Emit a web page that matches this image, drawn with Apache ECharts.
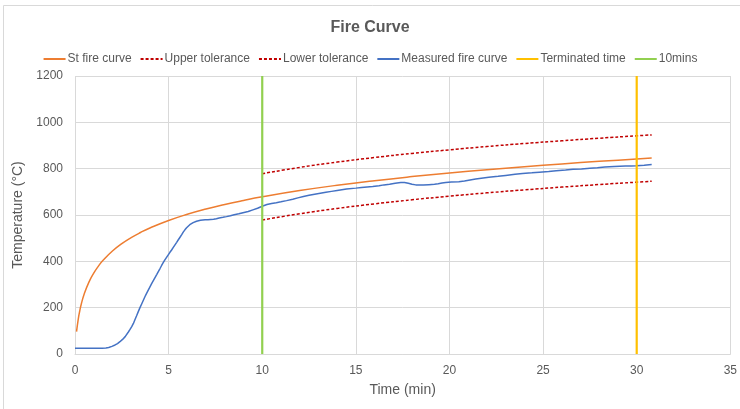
<!DOCTYPE html>
<html>
<head>
<meta charset="utf-8">
<script src="https://cdn.jsdelivr.net/npm/echarts@6/dist/echarts.min.js"></script>
<style>
html,body{margin:0;padding:0;background:#fff;}
#c{width:740px;height:409px;}
</style>
</head>
<body>
<div id="c"></div>
<script>
// Standard fire curve [time (min), temperature (°C)]
const stFireCurve = [
  [0.083,96.5],[0.17,148.6],[0.25,184.6],[0.33,213.6],[0.5,261.2],[0.75,311.6],
  [1,349.2],[1.25,379.3],[1.5,404.3],[2,444.5],[2.5,476.2],[3,502.3],[3.5,524.5],
  [4,543.9],[5,576.4],[6,603.1],[7,625.8],[8,645.5],[9,662.8],[10,678.4],
  [12,705.4],[14,728.3],[16,748.2],[18,765.7],[20,781.3],[22,795.6],[24,808.5],
  [26,820.4],[28,831.5],[30,841.8],[30.8,845.7]
];
const upperTolerance = [
  [10,778.4],[12,805.4],[14,828.3],[16,848.2],[18,865.7],[20,881.3],[22,895.6],
  [24,908.5],[26,920.4],[28,931.5],[30,941.8],[30.8,945.7]
];
const lowerTolerance = [
  [10,578.4],[12,605.4],[14,628.3],[16,648.2],[18,665.7],[20,681.3],[22,695.6],
  [24,708.5],[26,720.4],[28,731.5],[30,741.8],[30.8,745.7]
];
const measuredFireCurve = [
  [0,25],[0.5,25],[1,25],[1.44,25],[1.65,26],[1.8,28],[1.97,33],[2.14,39],[2.27,45],
  [2.4,53],[2.54,63],[2.68,75],[2.85,95],[2.94,106],
  [3.03,118],[3.12,132],[3.2,148],[3.29,165],[3.38,183],[3.47,200],[3.56,216],[3.65,232],
  [3.74,248],[3.83,263],[3.92,277],[4.01,291],[4.1,305],[4.19,318],
  [4.28,331],[4.37,344],[4.45,356],[4.54,369],[4.62,381],[4.71,394],[4.8,406],[4.89,417],
  [4.98,428],[5.07,439],[5.16,449],[5.25,460],[5.34,471],[5.43,482],
  [5.51,492],[5.6,503],[5.7,515],[5.78,526],[5.87,536],[5.96,545],[6.05,552],[6.13,558],
  [6.22,563],[6.31,567],[6.4,570],[6.49,573],[6.57,575],[6.7,577],
  [6.8,578],[6.95,579],[7.1,580],[7.25,581],[7.4,582],[7.55,584],[7.7,587],[7.9,590],[8.09,593],
  [8.3,597],[8.5,601],[8.75,605],[8.97,610],[9.25,615],[9.5,622],[9.75,629],[10,638],
  [10.25,645],[10.5,650],[10.75,653],[11,657],[11.3,662],[11.63,668],
  [11.9,674],[12.2,680],[12.5,685],[12.8,690],[13.1,694],[13.4,698],[13.7,702],[14,706],
  [14.5,712],[15,716],[15.3,719],[15.6,721],[15.9,723],
  [16.24,726],[16.5,730],[16.8,733],[17.1,737],[17.4,740],[17.6,740],[17.8,737],[18,733],
  [18.2,730],[18.4,729],[18.6,729],[18.9,731],
  [19.2,733],[19.4,735],[19.6,738],[19.8,740],[20.1,742],[20.5,744],[20.8,747],[21.1,751],
  [21.4,755],[21.7,759],[22.1,763],[22.6,767],[23.0,771],[23.5,776],
  [23.9,779],[24.4,782],[24.8,785],[25.3,788],[25.7,791],[26.2,794],[26.6,797],[27.05,799],
  [27.5,802],[27.9,804],[28.3,807],[28.8,809],[29.1,810],[29.4,811],
  [29.7,812],[30,813],[30.4,815],[30.8,818]
];
const terminatedTime = [[30,0],[30,1200]];
const tenMins = [[10,0],[10,1200]];
const xTicks = {min:0, max:35, interval:5};
const yTicks = {min:0, max:1200, interval:200};

const FONT = '"Liberation Sans", "DejaVu Sans", sans-serif';
const chart = echarts.init(document.getElementById('c'));
const line = (name, data, color, width, type, smooth) => ({
  name, type:'line', data, showSymbol:false, symbol:'none', smooth: smooth || false,
  lineStyle:{color, width, type: type || 'solid'}, itemStyle:{color},
  emphasis:{disabled:true}, animation:false
});
chart.setOption({
  animation:false,
  backgroundColor:'#fff',
  graphic:[{type:'rect', shape:{x:3.5,y:5.5,width:745,height:410}, style:{fill:'none', stroke:'#D9D9D9', lineWidth:1}, silent:true}],
  title:{text:'Fire Curve', left:'center', top:15, textStyle:{fontFamily:FONT, fontSize:16, fontWeight:'bold', color:'#595959'}},
  legend:{top:48, left:'center', itemWidth:22, itemHeight:10, itemGap:8,
    itemStyle:{opacity:0},
    textStyle:{fontFamily:FONT, fontSize:12, color:'#595959', padding:[0,0,0,-3]},
    data:['St fire curve','Upper tolerance','Lower tolerance','Measured fire curve','Terminated time','10mins']},
  grid:{left:75, right:7, top:76, bottom:55, containLabel:false},
  xAxis:{type:'value', min:xTicks.min, max:xTicks.max, interval:xTicks.interval,
    name:'Time (min)', nameLocation:'middle', nameGap:29,
    nameTextStyle:{fontFamily:FONT, fontSize:14, color:'#595959'},
    axisLine:{show:true, onZero:false, lineStyle:{color:'#D9D9D9'}}, axisTick:{show:false},
    axisLabel:{fontFamily:FONT, fontSize:12, color:'#595959', margin:11},
    splitLine:{show:true, lineStyle:{color:'#D9D9D9'}}},
  yAxis:{type:'value', min:yTicks.min, max:yTicks.max, interval:yTicks.interval,
    name:'Temperature (°C)', nameLocation:'middle', nameGap:40,
    nameTextStyle:{fontFamily:FONT, fontSize:14, color:'#595959'},
    axisLine:{show:false}, axisTick:{show:false},
    axisLabel:{fontFamily:FONT, fontSize:12, color:'#595959', margin:12, formatter:(v)=>String(v)},
    splitLine:{show:true, lineStyle:{color:'#D9D9D9'}}},
  series:[
    line('St fire curve', stFireCurve, '#ED7D31', 1.5, 'solid', true),
    line('Upper tolerance', upperTolerance, '#C00000', 1.5, [3,2], true),
    line('Lower tolerance', lowerTolerance, '#C00000', 1.5, [3,2], true),
    line('Measured fire curve', measuredFireCurve, '#4472C4', 1.5, 'solid', false),
    line('Terminated time', terminatedTime, '#FFC000', 2.2),
    line('10mins', tenMins, '#92D050', 2.2)
  ]
});
</script>
</body>
</html>
